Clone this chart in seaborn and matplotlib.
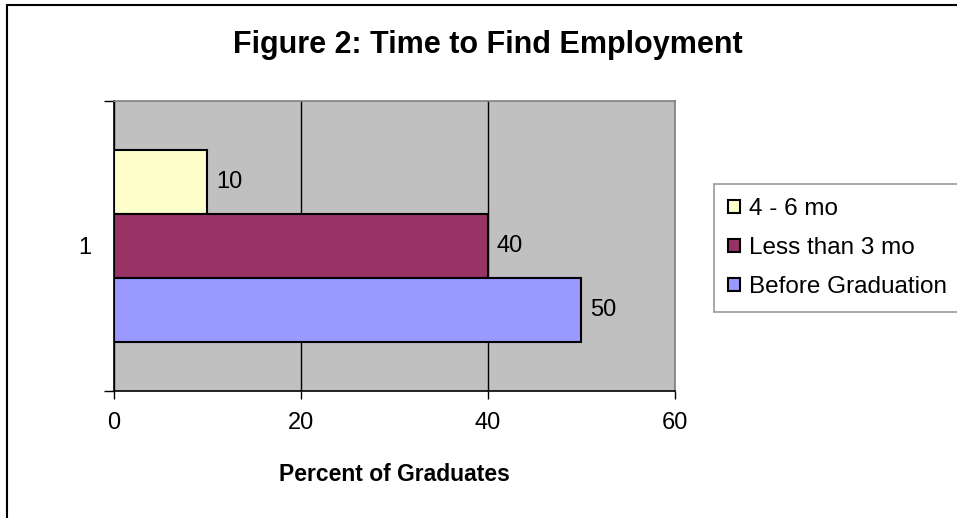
import matplotlib
matplotlib.use("Agg")
import matplotlib.pyplot as plt
from matplotlib.patches import Rectangle
import seaborn as sns
import pandas as pd

categories = ["1", "1", "1"]
series = ["4 - 6 mo", "Less than 3 mo", "Before Graduation"]
values = [10, 40, 50]
colors = ["#FFFFCC", "#993366", "#9999FF"]
x_ticks = [0, 20, 40, 60]

df = pd.DataFrame({"cat": categories, "series": series, "value": values})

sns.set_theme(style="white")
plt.rcParams["font.family"] = ["Liberation Sans", "DejaVu Sans"]
plt.rcParams["text.color"] = "black"
plt.rcParams["xtick.color"] = "black"
plt.rcParams["ytick.color"] = "black"
plt.rcParams["axes.labelcolor"] = "black"

fig = plt.figure(figsize=(9.57, 5.18), dpi=100)
ax = fig.add_axes([114 / 957, 1 - 391 / 518, (675 - 114) / 957, (391 - 101) / 518])
ax.set_facecolor("#C0C0C0")

sns.barplot(data=df, y="cat", x="value", hue="series", hue_order=series,
            palette=dict(zip(series, colors)), orient="h", width=0.66,
            edgecolor="black", linewidth=1.5, ax=ax, legend=True, saturation=1)

for c in ax.containers:
    ax.bar_label(c, fmt="%g", padding=6, fontsize=17, color="black")

ax.set_xlim(0, 60)
ax.set_ylim(0.5, -0.5)
ax.set_xticks(x_ticks)
ax.set_xticklabels([str(t) for t in x_ticks], fontsize=17)
ax.tick_params(axis="x", which="major", direction="out", length=6, width=1,
               color="black", labelcolor="black", pad=9, bottom=True)
ax.set_yticks([0])
ax.set_yticklabels(["1"], fontsize=17)
ax.tick_params(axis="y", which="major", length=0, pad=16, left=True,
               labelcolor="black")
ax.set_yticks([-0.5, 0.5], minor=True)
ax.tick_params(axis="y", which="minor", direction="out", length=7, width=1,
               color="black", left=True)

ax.grid(axis="x", color="black", linewidth=1)
ax.grid(axis="y", visible=False)
ax.set_axisbelow(True)

for s in ["left", "bottom"]:
    ax.spines[s].set_color("black")
    ax.spines[s].set_linewidth(1.2)
for s in ["top", "right"]:
    ax.spines[s].set_color("#808080")
    ax.spines[s].set_linewidth(1.2)

ax.set_ylabel("")
ax.set_xlabel("Percent of Graduates", fontsize=16.5, fontweight="bold",
              labelpad=21, color="black")

handles, labels = ax.get_legend_handles_labels()
if ax.legend_:
    ax.legend_.remove()
leg = fig.legend(handles, labels, loc="upper left",
                 bbox_to_anchor=(714 / 957, 1 - 184 / 518), fontsize=17.5,
                 frameon=True, fancybox=False, edgecolor="#808080",
                 handlelength=0.5, handleheight=0.5, handletextpad=0.35,
                 labelspacing=0.7, borderpad=0.58, borderaxespad=0,
                 labelcolor="black")
leg.get_frame().set_linewidth(1.2)

fig.text(488 / 957, 1 - 45 / 518, "Figure 2: Time to Find Employment",
         ha="center", va="center", fontsize=22, fontweight="bold", color="black")

fig.patches.append(Rectangle((7 / 957, -0.1), 1.2, 1 - 5 / 518 + 0.1,
                             transform=fig.transFigure, fill=False,
                             edgecolor="black", linewidth=1.5))

fig.savefig("out.png", dpi=100)
